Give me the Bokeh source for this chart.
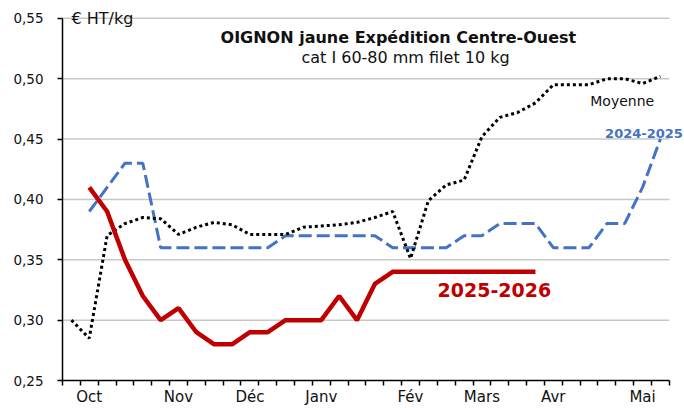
from bokeh.plotting import figure
from bokeh.models import FixedTicker, Label, CustomJSTickFormatter, Range1d
from bokeh.embed import file_html
from bokeh.resources import INLINE

nan = float("nan")

weeks = list(range(34))
month_labels = ["Oct", "Nov", "Déc", "Janv", "Fév", "Mars", "Avr", "Mai"]
month_pos = [1, 6, 10, 14, 19, 23, 27, 32]
y_ticks = [0.25, 0.30, 0.35, 0.40, 0.45, 0.50, 0.55]

moyenne = [0.30, 0.285, 0.37, 0.38, 0.385, 0.384, 0.371, 0.377, 0.381, 0.379,
           0.371, 0.371, 0.371, 0.377, 0.378, 0.379, 0.381, 0.385, 0.39, 0.351,
           0.399, 0.412, 0.416, 0.452, 0.468, 0.472, 0.48, 0.495, 0.495, 0.495,
           0.50, 0.50, 0.496, 0.502]

s2024_2025 = [nan, 0.39, 0.41, 0.43, 0.43, 0.36, 0.36, 0.36, 0.36, 0.36,
              0.36, 0.36, 0.37, 0.37, 0.37, 0.37, 0.37, 0.37, 0.36, 0.36,
              0.36, 0.36, 0.37, 0.37, 0.38, 0.38, 0.38, 0.36, 0.36, 0.36,
              0.38, 0.38, 0.41, 0.45]

s2025_2026 = [nan, 0.41, 0.39, 0.35, 0.32, 0.30, 0.31, 0.29, 0.28, 0.28,
              0.29, 0.29, 0.30, 0.30, 0.30, 0.32, 0.30, 0.33, 0.34, 0.34,
              0.34, 0.34, 0.34, 0.34, 0.34, 0.34, 0.34, nan, nan, nan,
              nan, nan, nan, nan]

FONT = "DejaVu Sans"
TXT = "#111111"

x_lo, x_hi = weeks[0] - 0.5, weeks[-1] + 0.5
y_lo, y_hi = y_ticks[0], y_ticks[-1]

# frame extends a little beyond the axes so that the texts at the edges are not cut
p = figure(width=684, height=408, output_backend="svg", toolbar_location=None,
           x_range=Range1d(x_lo, 34.35), y_range=Range1d(y_lo, 0.5648),
           min_border_left=62, min_border_top=0, min_border_right=0,
           min_border_bottom=25)
p.outline_line_color = None
p.background_fill_color = "white"
p.border_fill_color = "white"

# grid (drawn only across the axis span)
p.xgrid.grid_line_color = None
p.ygrid.grid_line_color = None
gy = y_ticks[1:]
p.segment(x0=[x_lo] * len(gy), y0=gy, x1=[x_hi] * len(gy), y1=gy,
          line_color="#C8C8C8", line_width=1.5)

# y axis
p.yaxis.bounds = (y_lo, y_hi)
p.yaxis.ticker = FixedTicker(ticks=y_ticks)
p.yaxis.formatter = CustomJSTickFormatter(code="return tick.toFixed(2).replace('.', ',');")
p.yaxis.axis_line_color = "black"
p.yaxis.axis_line_width = 1.5
p.yaxis.major_tick_out = 5
p.yaxis.major_tick_in = 0
p.yaxis.minor_tick_out = 0
p.yaxis.minor_tick_in = 0
p.yaxis.major_tick_line_width = 1.5
p.yaxis.major_label_standoff = 14
p.yaxis.major_label_text_font = FONT
p.yaxis.major_label_text_font_size = "13.5px"
p.yaxis.major_label_text_color = TXT

# x axis
boundaries = [w - 0.5 for w in weeks] + [weeks[-1] + 0.5]
p.xaxis.bounds = (x_lo, x_hi)
p.xaxis.ticker = FixedTicker(ticks=month_pos, minor_ticks=boundaries)
p.xaxis.major_label_overrides = {pos: lab for pos, lab in zip(month_pos, month_labels)}
p.xaxis.axis_line_color = "black"
p.xaxis.axis_line_width = 1.5
p.xaxis.major_tick_out = 0
p.xaxis.major_tick_in = 0
p.xaxis.minor_tick_out = 5
p.xaxis.minor_tick_in = 0
p.xaxis.minor_tick_line_width = 1.5
p.xaxis.minor_tick_line_color = "black"
p.xaxis.major_label_standoff = 2
p.xaxis.major_label_text_font = FONT
p.xaxis.major_label_text_font_size = "15px"
p.xaxis.major_label_text_color = TXT

# series
p.line(weeks, s2024_2025, line_color="#4472C4", line_width=3, line_dash="13 5")
p.line(weeks, moyenne, line_color="black", line_width=3, line_dash="3 3")
p.line(weeks, s2025_2026, line_color="#C00000", line_width=4.5)

# texts
p.add_layout(Label(x=18.32, y=0.5344, text="OIGNON jaune Expédition Centre-Ouest",
                   text_font=FONT, text_font_size="16px", text_font_style="bold",
                   text_align="center", text_baseline="middle", text_color=TXT))
p.add_layout(Label(x=18.72, y=0.5179, text="cat I 60-80 mm filet 10 kg",
                   text_font=FONT, text_font_size="16px",
                   text_align="center", text_baseline="middle", text_color=TXT))
p.add_layout(Label(x=0.0, y=0.55, text="€ HT/kg",
                   text_font=FONT, text_font_size="16px",
                   text_align="left", text_baseline="middle", text_color=TXT))
p.add_layout(Label(x=30.86, y=0.4814, text="Moyenne",
                   text_font=FONT, text_font_size="14px",
                   text_align="center", text_baseline="middle", text_color=TXT))
p.add_layout(Label(x=32.08, y=0.4547, text="2024-2025",
                   text_font=FONT, text_font_size="13px", text_font_style="bold",
                   text_align="center", text_baseline="middle", text_color="#4472C4"))
p.add_layout(Label(x=23.70, y=0.3248, text="2025-2026",
                   text_font=FONT, text_font_size="19px", text_font_style="bold",
                   text_align="center", text_baseline="middle", text_color="#C00000"))

open("out.html", "w").write(file_html(p, INLINE))
